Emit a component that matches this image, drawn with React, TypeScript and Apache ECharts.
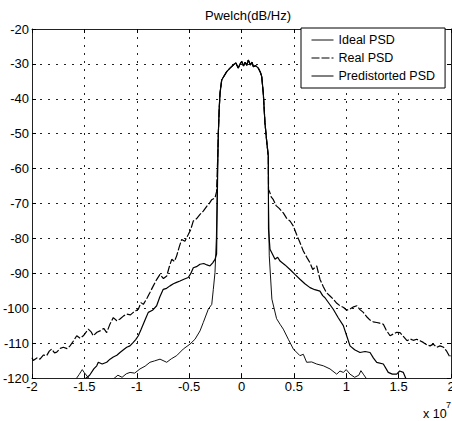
import React, { useEffect, useRef } from "react";
import * as echarts from "echarts";

// x in units of 1e7 Hz, y in dB/Hz
const xTicks = [-2, -1.5, -1, -0.5, 0, 0.5, 1, 1.5, 2];
const yTicks = [-120, -110, -100, -90, -80, -70, -60, -50, -40, -30, -20];

const passband: number[][] = [
  [-0.225, -55], [-0.221, -49.8], [-0.213, -43], [-0.205, -38.4], [-0.189, -34.6], [-0.165, -33.4],
  [-0.141, -32.2], [-0.11, -31.2], [-0.078, -30.3], [-0.055, -29.7], [-0.031, -31.2], [-0.015, -30.1],
  [0.002, -29.3], [0.02, -30.6], [0.035, -29.5], [0.05, -30.4], [0.065, -28.9], [0.085, -30.3],
  [0.1, -29.5], [0.113, -30.8], [0.135, -30.5], [0.16, -31.2], [0.18, -32.4], [0.193, -33.6],
  [0.208, -38.4], [0.224, -46.9], [0.24, -52], [0.256, -56.5],
];

const realLeft: number[][] = [
  [-2.0, -114.2], [-1.988, -115], [-1.95, -114.2], [-1.924, -114.6], [-1.89, -113.4], [-1.86, -113.6],
  [-1.835, -112.3], [-1.812, -111.7], [-1.785, -112.8], [-1.764, -112.6], [-1.73, -111.5], [-1.701, -111.2],
  [-1.665, -111.6], [-1.637, -110.8], [-1.6, -109.2], [-1.573, -107.9], [-1.54, -108.6], [-1.51, -107.9],
  [-1.463, -106], [-1.435, -106.8], [-1.415, -107.9], [-1.38, -106.9], [-1.351, -106.5], [-1.315, -105.8],
  [-1.287, -107], [-1.255, -104.5], [-1.224, -102.7], [-1.19, -103.6], [-1.16, -103.1], [-1.125, -102.2],
  [-1.096, -101.7], [-1.06, -101.9], [-1.033, -101.2], [-0.985, -100.3], [-0.96, -98.4], [-0.937, -98.9],
  [-0.9, -97], [-0.874, -95.5], [-0.842, -93.6], [-0.81, -91.8], [-0.778, -90.3], [-0.745, -91.5],
  [-0.714, -90.8], [-0.69, -88.2], [-0.666, -86], [-0.64, -86.6], [-0.619, -85], [-0.595, -82.5],
  [-0.571, -80.3], [-0.54, -80.8], [-0.508, -78.9], [-0.485, -77.5], [-0.46, -75], [-0.43, -74.4],
  [-0.396, -73.1], [-0.365, -72.2], [-0.332, -70.8], [-0.31, -70.1], [-0.284, -68.9], [-0.253, -68.4],
  [-0.238, -66.6],
];
const realRight: number[][] = [
  [0.258, -66], [0.27, -66.8], [0.285, -68.2], [0.304, -68.9], [0.33, -70.6], [0.36, -71.4], [0.399, -72.7],
  [0.43, -74.2], [0.465, -75.1], [0.495, -76.5], [0.525, -78.8], [0.558, -81.2], [0.59, -83.6], [0.625, -85.5],
  [0.654, -87], [0.68, -88.9], [0.718, -87.9], [0.749, -91.7], [0.78, -93.8], [0.81, -95.5], [0.845, -96.5],
  [0.876, -97.4], [0.91, -98.6], [0.94, -99.3], [0.975, -99.8], [1.004, -100.6], [1.036, -100.2], [1.07, -99.6],
  [1.101, -99.3], [1.131, -100.4], [1.163, -101.2], [1.2, -102.6], [1.227, -103.4], [1.258, -103.9],
  [1.291, -104.1], [1.32, -104.3], [1.354, -104.6], [1.38, -106.2], [1.418, -107.9], [1.45, -107.4],
  [1.482, -106.9], [1.513, -107], [1.545, -108.1], [1.58, -109.3], [1.61, -108.8], [1.64, -109.2],
  [1.672, -108.9], [1.704, -109.3], [1.735, -109.8], [1.77, -110.5], [1.8, -110.8], [1.83, -110.3],
  [1.865, -111.2], [1.895, -110.8], [1.93, -111.2], [1.96, -112.4], [1.99, -114], [2.0, -113.6],
];

const predLeft: number[][] = [
  [-1.56, -121.5], [-1.5, -120.4], [-1.45, -119.2], [-1.41, -117.4], [-1.382, -116.5], [-1.367, -115.5],
  [-1.33, -116], [-1.287, -115.5], [-1.255, -114.6], [-1.224, -114], [-1.19, -113.5], [-1.16, -112.7],
  [-1.13, -112], [-1.096, -111.2], [-1.065, -110.8], [-1.033, -109.8], [-1.01, -109], [-0.985, -107.9],
  [-0.96, -106.2], [-0.935, -104.4], [-0.91, -102.6], [-0.89, -101.2], [-0.85, -100.6], [-0.81, -99.3],
  [-0.78, -96.8], [-0.747, -94.6], [-0.715, -94.3], [-0.683, -93.6], [-0.65, -93], [-0.62, -92.6],
  [-0.587, -92.2], [-0.55, -91.7], [-0.508, -91.2], [-0.485, -90.1], [-0.46, -88.4], [-0.43, -88.1],
  [-0.396, -87.4], [-0.36, -87.2], [-0.33, -87.6], [-0.301, -87.9], [-0.275, -87], [-0.253, -86],
  [-0.238, -84.5],
];
const predRight: number[][] = [
  [0.258, -77.4], [0.272, -83.1], [0.295, -84.5], [0.32, -86], [0.345, -85.4], [0.368, -86.5], [0.415, -87.6],
  [0.463, -88.9], [0.51, -90.3], [0.558, -91.7], [0.605, -93], [0.654, -94.1], [0.7, -94.7], [0.749, -95.1],
  [0.775, -96.4], [0.797, -97], [0.84, -98.8], [0.876, -100.3], [0.925, -102.8], [0.972, -105], [1.004, -107.9],
  [1.036, -110.8], [1.08, -111.9], [1.131, -112.7], [1.18, -112.4], [1.227, -112.7], [1.26, -114.3],
  [1.291, -115.5], [1.354, -116], [1.401, -118.4], [1.44, -118.9], [1.482, -118.9], [1.51, -118],
  [1.545, -118.4], [1.57, -120.2], [1.62, -121.5],
];

const idealLeft: number[][] = [
  [-1.65, -121.5], [-1.58, -120.3], [-1.55, -119], [-1.52, -117.6], [-1.5, -118.5], [-1.47, -119.6],
  [-1.43, -121], [-1.3, -121.5], [-1.22, -120.2], [-1.18, -119.2], [-1.14, -119.8], [-1.1, -118.8],
  [-1.064, -118.4], [-1.02, -118.6], [-0.969, -117.4], [-0.92, -116.6], [-0.874, -115.5], [-0.83, -115.1],
  [-0.778, -114.6], [-0.714, -115.5], [-0.67, -114.5], [-0.619, -113.6], [-0.556, -111.7], [-0.492, -110.3],
  [-0.444, -108.9], [-0.396, -106.5], [-0.365, -104.1], [-0.317, -100.3], [-0.284, -98.9], [-0.269, -94.6],
  [-0.253, -89.8], [-0.24, -80],
];
const idealRight: number[][] = [
  [0.258, -70], [0.265, -85], [0.29, -97.4], [0.335, -103], [0.368, -104.6], [0.399, -106], [0.447, -108.9],
  [0.495, -111.7], [0.558, -113.6], [0.59, -113.2], [0.622, -115.5], [0.67, -115.4], [0.718, -116],
  [0.781, -116.5], [0.845, -117.4], [0.909, -118.9], [0.94, -118], [0.972, -118.4], [1.0, -117.6],
  [1.036, -118.9], [1.08, -119.8], [1.12, -119.2], [1.14, -117.9], [1.163, -118.9], [1.2, -120.5],
  [1.3, -121.5],
];

const seriesNames = ["Ideal PSD", "Real PSD", "Predistorted PSD"];

const FONT = "'Liberation Sans', Arial, sans-serif";

export default function App() {
  const ref = useRef<HTMLDivElement>(null);
  useEffect(() => {
    document.body.style.margin = "0";
    if (!ref.current) return;
    const chart = echarts.init(ref.current, null, { renderer: "svg" });
    const axisCommon = {
      type: "value" as const,
      axisLine: { show: true, onZero: false, lineStyle: { color: "#222", width: 1 } },
      axisTick: { show: true, inside: true, length: 4, lineStyle: { color: "#000" } },
    };
    const gridLine = { show: true, lineStyle: { color: "#222", type: [2, 6], width: 1 } };
    chart.setOption({
      animation: false,
      backgroundColor: "#fff",
      title: {
        text: "Pwelch(dB/Hz)",
        left: 243,
        top: 4,
        textAlign: "center",
        textStyle: { fontFamily: FONT, fontSize: 13, fontWeight: "normal", color: "#000" },
      },
      grid: {
        left: 32,
        right: 1,
        top: 29,
        bottom: 43,
        show: false,
        containLabel: false,
        outerBoundsMode: "none",
      },
      legend: {
        data: seriesNames,
        orient: "vertical",
        left: 301,
        top: 28,
        padding: [5, 10, 5, 10],
        itemWidth: 22,
        itemHeight: 10,
        itemGap: 4,
        itemStyle: { opacity: 0 },
        lineStyle: { width: 1 },
        backgroundColor: "#fff",
        borderColor: "#000",
        borderWidth: 1,
        borderRadius: 0,
        textStyle: { fontFamily: FONT, fontSize: 12.5, color: "#000", lineHeight: 14 },
      },
      xAxis: [
        {
          ...axisCommon,
          min: xTicks[0],
          max: xTicks[xTicks.length - 1],
          interval: 0.5,
          position: "bottom",
          axisLabel: { fontFamily: FONT, fontSize: 13, color: "#000", margin: 2 },
          splitLine: gridLine,
        },
        {
          ...axisCommon,
          min: xTicks[0],
          max: xTicks[xTicks.length - 1],
          interval: 0.5,
          position: "top",
          axisLabel: { show: false },
          splitLine: { show: false },
        },
      ],
      yAxis: [
        {
          ...axisCommon,
          min: yTicks[0],
          max: yTicks[yTicks.length - 1],
          interval: 10,
          position: "left",
          axisLabel: { fontFamily: FONT, fontSize: 13, color: "#000", margin: 3 },
          splitLine: gridLine,
        },
        {
          ...axisCommon,
          min: yTicks[0],
          max: yTicks[yTicks.length - 1],
          interval: 10,
          position: "right",
          axisLabel: { show: false },
          splitLine: { show: false },
        },
      ],
      graphic: [
        {
          type: "text",
          left: 423,
          top: 407,
          style: { text: "x 10", fontFamily: FONT, fontSize: 12.5, fill: "#000" },
        },
        {
          type: "text",
          left: 446,
          top: 400,
          style: { text: "7", fontFamily: FONT, fontSize: 9, fill: "#000" },
        },
      ],
      series: [
        {
          name: seriesNames[0],
          type: "line",
          data: [...idealLeft, ...passband, ...idealRight],
          symbol: "none",
          clip: true,
          lineStyle: { color: "#111", width: 1 },
          itemStyle: { color: "#111" },
          z: 3,
        },
        {
          name: seriesNames[1],
          type: "line",
          data: [...realLeft, ...passband, ...realRight],
          symbol: "none",
          clip: true,
          lineStyle: { color: "#000", width: 1.2, type: [8, 2] },
          itemStyle: { color: "#000" },
          z: 4,
        },
        {
          name: seriesNames[2],
          type: "line",
          data: [...predLeft, ...passband, ...predRight],
          symbol: "none",
          clip: true,
          lineStyle: { color: "#000", width: 1.2 },
          itemStyle: { color: "#000" },
          z: 5,
        },
      ],
    });
    return () => chart.dispose();
  }, []);
  return <div ref={ref} style={{ width: 452, height: 421 }} />;
}
